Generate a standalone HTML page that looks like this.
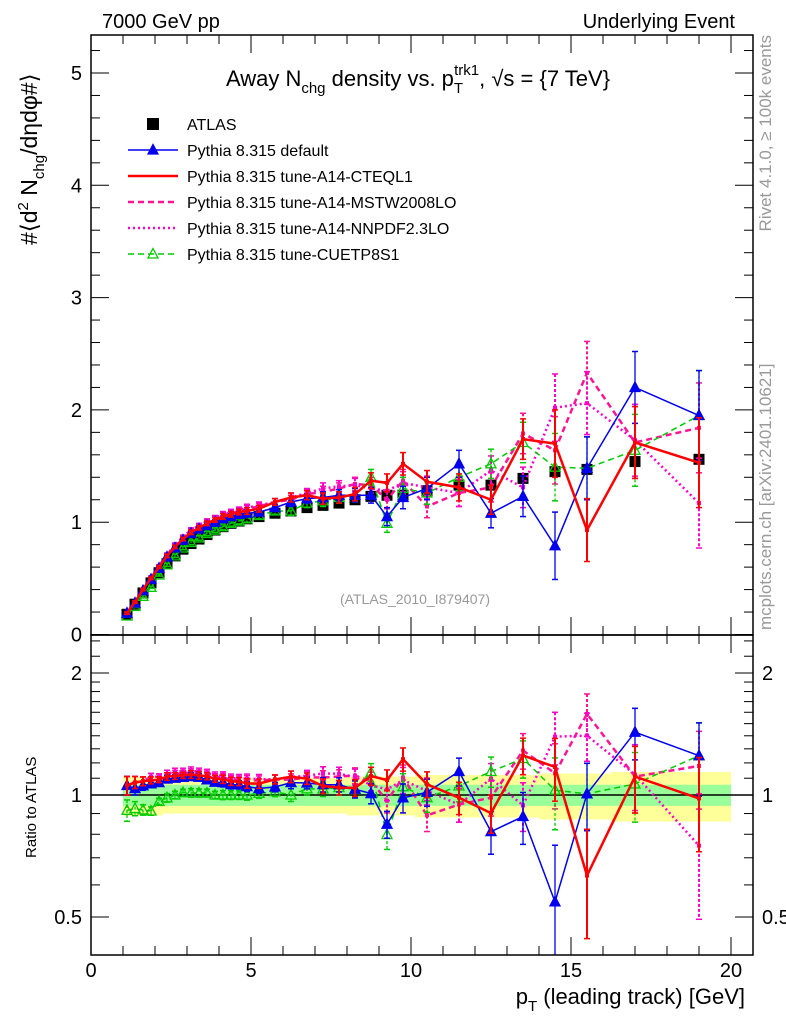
<!DOCTYPE html>
<html><head><meta charset="utf-8"><style>
body{margin:0;background:#fff;}
svg text{font-family:"Liberation Sans",Arial,sans-serif;}
</style></head><body>
<svg id="chart" width="786" height="1024" xmlns="http://www.w3.org/2000/svg">
<defs>
<clipPath id="cm"><rect x="91" y="35" width="662" height="600"/></clipPath>
<clipPath id="cr"><rect x="91" y="635" width="662" height="320"/></clipPath>
</defs>
<rect x="0" y="0" width="786" height="1024" fill="#fff"/>
<g id="bands" clip-path="url(#cr)"></g>
<g id="main" clip-path="url(#cm)"></g>
<g id="ratio" clip-path="url(#cr)"></g>
<g id="axes"></g>
<text x="102" y="28" font-size="20">7000 GeV pp</text>
<text x="735" y="28" font-size="20" text-anchor="end">Underlying Event</text>
<text x="418" y="86" font-size="22" text-anchor="middle">Away N<tspan font-size="15" dy="7">chg</tspan><tspan dy="-7"> density vs. p</tspan><tspan font-size="15" dy="7">T</tspan><tspan font-size="15" dy="-18" dx="-9">trk1</tspan><tspan dy="11">, √s = {7 TeV}</tspan></text>
<text x="415" y="604" font-size="14" fill="#999" text-anchor="middle">(ATLAS_2010_I879407)</text>
<text transform="translate(771,35) rotate(-90)" font-size="17" fill="#999" text-anchor="end">Rivet 4.1.0, ≥ 100k events</text>
<text transform="translate(771,630) rotate(-90)" font-size="17" fill="#999">mcplots.cern.ch [arXiv:2401.10621]</text>
<text transform="translate(37,245) rotate(-90)" font-size="23">#⟨d<tspan font-size="15" dy="-9">2</tspan><tspan dy="9"> N</tspan><tspan font-size="15" dy="7">chg</tspan><tspan dy="-7">/dηdφ#⟩</tspan></text>
<text transform="translate(36,858) rotate(-90)" font-size="15">Ratio to ATLAS</text>
<text x="745" y="1004" font-size="22" text-anchor="end">p<tspan font-size="15" dy="7">T</tspan><tspan dy="-7"> (leading track) [GeV]</tspan></text>
<g id="legend"></g>
</svg>
<script>
const xVals=[1.125,1.375,1.625,1.875,2.125,2.375,2.625,2.875,3.125,3.375,3.625,3.875,4.125,4.375,4.625,4.875,5.25,5.75,6.25,6.75,7.25,7.75,8.25,8.75,9.25,9.75,10.5,11.5,12.5,13.5,14.5,15.5,17,19];
const atlasVals=[0.18,0.27,0.37,0.46,0.55,0.63,0.70,0.76,0.81,0.85,0.89,0.93,0.96,0.99,1.01,1.03,1.05,1.08,1.10,1.13,1.15,1.17,1.20,1.23,1.24,1.24,1.28,1.33,1.33,1.39,1.45,1.47,1.54,1.56];
const atlasStat=[0.06,0.06,0.06,0.06,0.06,0.06,0.06,0.06,0.06,0.06,0.06,0.06,0.06,0.06,0.06,0.06,0.06,0.06,0.06,0.06,0.06,0.06,0.06,0.06,0.06,0.06,0.06,0.06,0.06,0.06,0.06,0.06,0.06,0.06];
const atlasTot=[0.11,0.11,0.11,0.11,0.11,0.10,0.10,0.10,0.10,0.10,0.10,0.10,0.10,0.10,0.10,0.10,0.10,0.10,0.10,0.10,0.10,0.10,0.11,0.11,0.11,0.11,0.12,0.12,0.12,0.12,0.13,0.13,0.14,0.14];
const defaultVals=[0.19,0.28,0.39,0.49,0.59,0.69,0.77,0.84,0.90,0.94,0.97,1.00,1.03,1.05,1.07,1.08,1.09,1.13,1.18,1.21,1.22,1.24,1.24,1.24,1.05,1.22,1.30,1.52,1.08,1.23,0.79,1.48,2.20,1.95];
const cteqVals=[0.19,0.29,0.40,0.50,0.60,0.70,0.78,0.85,0.91,0.95,0.99,1.02,1.05,1.07,1.09,1.10,1.12,1.18,1.22,1.24,1.21,1.22,1.25,1.37,1.35,1.52,1.36,1.31,1.20,1.74,1.70,0.93,1.71,1.53];
const mstwVals=[0.19,0.29,0.40,0.51,0.61,0.71,0.79,0.86,0.92,0.96,1.00,1.03,1.06,1.08,1.10,1.12,1.14,1.18,1.20,1.25,1.27,1.30,1.34,1.33,1.20,1.37,1.14,1.26,1.31,1.79,1.64,2.33,1.71,1.84];
const nnpdfVals=[0.19,0.29,0.40,0.51,0.61,0.71,0.80,0.87,0.93,0.97,1.01,1.04,1.07,1.09,1.11,1.13,1.15,1.18,1.22,1.26,1.30,1.32,1.33,1.30,1.28,1.35,1.31,1.26,1.46,1.31,2.02,2.06,1.73,1.17];
const cuetVals=[0.165,0.25,0.34,0.42,0.53,0.62,0.70,0.77,0.82,0.86,0.90,0.93,0.96,0.99,1.01,1.03,1.06,1.10,1.10,1.17,1.19,1.22,1.24,1.40,0.99,1.30,1.26,1.40,1.52,1.71,1.49,1.48,1.64,1.95];
const mcErr=[0.01,0.01,0.01,0.01,0.01,0.015,0.015,0.015,0.02,0.02,0.02,0.02,0.025,0.025,0.025,0.03,0.03,0.03,0.04,0.04,0.05,0.05,0.06,0.07,0.08,0.10,0.10,0.12,0.13,0.18,0.30,0.28,0.32,0.40];
const mainYTicks=[0,1,2,3,4,5];
const xTicks=[0,5,10,15,20];
const ratioTicks=[0.5,1,2];

const NS="http://www.w3.org/2000/svg";
const X0=91,X1=753,Y0main=634.5,PYm=112.3,R1=795,PR=122;
const sx=v=>X0+v*32;
const sy=v=>Y0main-v*PYm;
const sr=v=>R1-Math.log2(v)*PR;
function mk(tag,attrs,parent){const e=document.createElementNS(NS,tag);for(const k in attrs)e.setAttribute(k,attrs[k]);parent.appendChild(e);return e;}
const gm=document.getElementById('main'),gr=document.getElementById('ratio'),ga=document.getElementById('axes'),gb=document.getElementById('bands'),gl=document.getElementById('legend');

function bandPath(arr){let up='',dn='';for(let i=0;i<xVals.length;i++){const lo=i==0?xVals[0]-0.125:(xVals[i-1]+xVals[i])/2;const hi=i==xVals.length-1?20:(xVals[i]+xVals[i+1])/2;up+=(i?'L':'M')+sx(lo)+','+sr(1+arr[i])+'L'+sx(hi)+','+sr(1+arr[i]);}for(let i=xVals.length-1;i>=0;i--){const lo=i==0?xVals[0]-0.125:(xVals[i-1]+xVals[i])/2;const hi=i==xVals.length-1?20:(xVals[i]+xVals[i+1])/2;dn+='L'+sx(hi)+','+sr(1-arr[i])+'L'+sx(lo)+','+sr(1-arr[i]);}return up+dn+'Z';}
const yb=mk('path',{d:bandPath(atlasTot),fill:'#ffff99'},gb);


const gbd=mk('path',{d:bandPath(atlasStat),fill:'#99ff99'},gb);


const one=mk('line',{x1:X0,x2:X1,y1:R1,y2:R1,stroke:'#000','stroke-width':1.5},gr);



const series=[
 {vals:mstwVals,color:'#ff1493',w:2.5,dash:'6,4',marker:'none',name:'mstw'},
 {vals:nnpdfVals,color:'#ff00cc',w:2.5,dash:'2,3',marker:'none',name:'nnpdf'},
 {vals:cuetVals,color:'#00cc00',w:1.5,dash:'6,4',marker:'open',name:'cuetp8s1'},
 {vals:defaultVals,color:'#0000ee',w:1.5,dash:'',marker:'filled',name:'default'},
 {vals:cteqVals,color:'#ff0000',w:2.5,dash:'',marker:'none',name:'cteql1'}
];
function tri(g,x,y,c,filled){return mk('path',{d:`M${x},${y-5.5}L${x+5},${y+4}L${x-5},${y+4}Z`,fill:filled?c:'none',stroke:c,'stroke-width':1.3},g);}
function drawSeries(g,s,ratio){
 const sg=mk('g',{},g);
 
 
 const f=(i,v)=>ratio?sr(v/atlasVals[i]):sy(v);
 let d='';
 s.vals.forEach((v,i)=>{d+=(i?'L':'M')+sx(xVals[i])+','+f(i,v);});
 mk('path',{d:d,fill:'none',stroke:s.color,'stroke-width':s.w,'stroke-dasharray':s.dash},sg);
 s.vals.forEach((v,i)=>{const x=sx(xVals[i]);const e=mcErr[i];
  mk('line',{x1:x,x2:x,y1:f(i,v+e),y2:f(i,Math.max(v-e,0.01)),stroke:s.color,'stroke-width':s.w>2?2:1.3,'stroke-dasharray':s.dash?'3,2':''},sg);
  mk('line',{x1:x-3,x2:x+3,y1:f(i,v+e),y2:f(i,v+e),stroke:s.color,'stroke-width':1.5},sg);
  mk('line',{x1:x-3,x2:x+3,y1:f(i,Math.max(v-e,0.01)),y2:f(i,Math.max(v-e,0.01)),stroke:s.color,'stroke-width':1.5},sg);
  if(s.marker!=='none')tri(sg,x,f(i,v),s.color,s.marker==='filled');
  else mk('rect',{x:x-2,y:f(i,v)-2,width:4,height:4,fill:s.color},sg);
 });
}
const ag=mk('g',{},gm);


atlasVals.forEach((v,i)=>{mk('rect',{x:sx(xVals[i])-5.5,y:sy(v)-5.5,width:11,height:11,fill:'#000'},ag);});
series.forEach(s=>{drawSeries(gm,s,false);drawSeries(gr,s,true);});

function frame(y0,y1,n){const r=mk('rect',{x:X0,y:y0,width:X1-X0,height:y1-y0,fill:'none',stroke:'#000','stroke-width':1.5},ga);}
frame(35,635,'main-frame');frame(635,955,'ratio-frame');
for(let v=0;v<=20;v++){const x=sx(v);const L=v%5==0?18:9;
 mk('line',{x1:x,x2:x,y1:955,y2:955-L,stroke:'#000'},ga);mk('line',{x1:x,x2:x,y1:635,y2:635+L,stroke:'#000'},ga);
 mk('line',{x1:x,x2:x,y1:635,y2:635-L,stroke:'#000'},ga);mk('line',{x1:x,x2:x,y1:35,y2:35+L,stroke:'#000'},ga);}
xTicks.forEach(v=>{const t=mk('text',{x:sx(v),y:977,'font-size':20,'text-anchor':'middle'},ga);t.textContent=v;});
for(let k=0;k<=26;k++){const v=k*0.2;const y=sy(v);if(y<35)break;const L=k%5==0?18:9;
 mk('line',{x1:X0,x2:X0+L,y1:y,y2:y,stroke:'#000'},ga);mk('line',{x1:X1,x2:X1-L,y1:y,y2:y,stroke:'#000'},ga);}
mainYTicks.forEach(v=>{const t=mk('text',{x:82,y:sy(v)+7,'font-size':20,'text-anchor':'end'},ga);t.textContent=v;});
[0.4,0.5,0.6,0.7,0.8,0.9,1,1.1,1.2,1.3,1.4,1.5,1.6,1.7,1.8,1.9,2,2.2,2.4].forEach(v=>{const y=sr(v);if(y<636||y>954)return;const L=(v==0.5||v==1||v==2)?18:9;
 mk('line',{x1:X0,x2:X0+L,y1:y,y2:y,stroke:'#000'},ga);mk('line',{x1:X1,x2:X1-L,y1:y,y2:y,stroke:'#000'},ga);});
ratioTicks.forEach(v=>{const t=mk('text',{x:82,y:sr(v)+7,'font-size':20,'text-anchor':'end'},ga);t.textContent=v;
 const t2=mk('text',{x:762,y:sr(v)+7,'font-size':20},ga);t2.textContent=v;});
const leg=[
 {t:'ATLAS',c:'#000',m:'sq',dash:''},
 {t:'Pythia 8.315 default',c:'#0000ee',m:'filled',dash:'',w:1.5},
 {t:'Pythia 8.315 tune-A14-CTEQL1',c:'#ff0000',m:'none',dash:'',w:2.5},
 {t:'Pythia 8.315 tune-A14-MSTW2008LO',c:'#ff1493',m:'none',dash:'6,4',w:2.5},
 {t:'Pythia 8.315 tune-A14-NNPDF2.3LO',c:'#ff00cc',m:'none',dash:'2,3',w:2.5},
 {t:'Pythia 8.315 tune-CUETP8S1',c:'#00cc00',m:'open',dash:'6,4',w:1.5}];
leg.forEach((e,i)=>{const y=124+i*26;const g=mk('g',{},gl);
 
 
 if(e.m==='sq')mk('rect',{x:147,y:y-6,width:12,height:12,fill:'#000'},g);
 else{mk('line',{x1:128,x2:178,y1:y,y2:y,stroke:e.c,'stroke-width':e.w,'stroke-dasharray':e.dash},g);if(e.m!=='none')tri(g,153,y,e.c,e.m==='filled');}
 const t=mk('text',{x:187,y:y+6,'font-size':16},g);t.textContent=e.t;});
</script>
</body></html>
